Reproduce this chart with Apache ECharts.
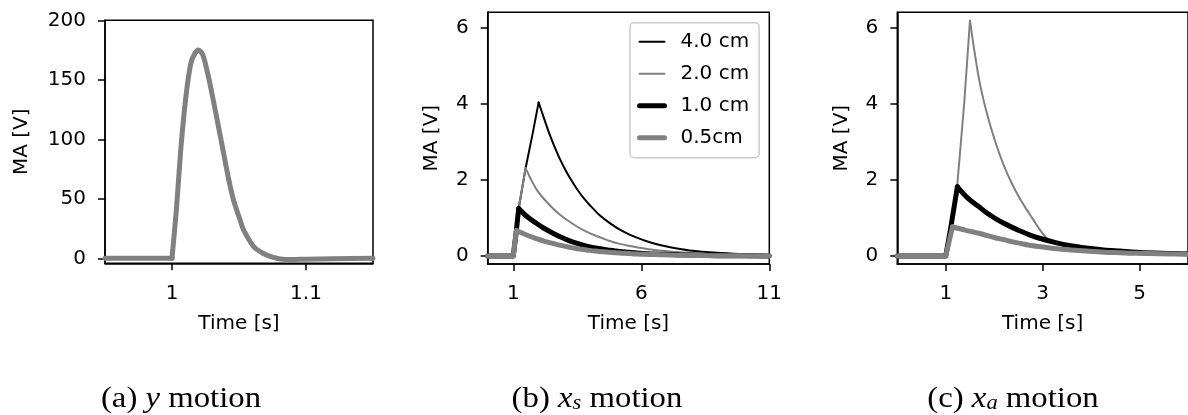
<!DOCTYPE html>
<html>
<head>
<meta charset="utf-8">
<script src="https://cdn.jsdelivr.net/npm/echarts@6/dist/echarts.min.js"></script>
<style>
html,body{margin:0;padding:0;background:#fff;}
#c{width:1188px;height:415px;}
</style>
</head>
<body>
<div id="c"></div>
<script>
// ---------- data ----------
// (a) y motion
const aT = [0.95, 1.0, 1.0032, 1.0069, 1.0106, 1.0141, 1.017, 1.0198, 1.023, 1.0273, 1.032, 1.0372, 1.042, 1.0459, 1.0509, 1.0533, 1.0608, 1.0682, 1.075, 1.0806, 1.09, 1.1, 1.12, 1.15];
const aV = [0, 0, 40, 96, 138, 164, 172, 175, 171, 152, 126, 96, 68, 49, 32, 24, 10, 4, 1, -0.5, -1, -0.8, -0.4, 0];

// (b) x_s motion
const bT40 = [0, 1.0, 1.12, 1.21, 1.35, 1.48, 1.75, 1.99, 2.2, 2.4, 2.6, 2.8, 3.0, 3.25, 3.5, 3.75, 4.0, 4.3, 4.6, 5.0, 5.4, 5.8, 6.3, 6.85, 7.4, 8.0, 8.8, 9.6, 10.4, 11];
const bV40 = [0, 0, 0.67, 1.25, 1.8, 2.31, 3.2, 4.04, 3.62, 3.23, 2.89, 2.58, 2.31, 2.01, 1.75, 1.52, 1.33, 1.12, 0.95, 0.76, 0.61, 0.49, 0.37, 0.27, 0.2, 0.14, 0.09, 0.06, 0.04, 0.03];
const bT20 = [0, 1.0, 1.12, 1.21, 1.35, 1.48, 1.65, 1.9, 2.2, 2.55, 2.85, 3.2, 3.5, 3.86, 4.2, 4.51, 4.8, 5.16, 5.5, 5.82, 6.5, 7.5, 8.5, 9.5, 11];
const bV20 = [0, 0, 0.67, 1.25, 1.8, 2.31, 2.07, 1.76, 1.5, 1.25, 1.07, 0.9, 0.77, 0.64, 0.54, 0.46, 0.39, 0.32, 0.27, 0.23, 0.16, 0.1, 0.06, 0.04, 0.02];
const bT10 = [0, 1.0, 1.12, 1.21, 1.5, 1.9, 2.2, 2.55, 2.85, 3.2, 3.5, 3.86, 4.2, 4.51, 4.8, 5.16, 5.5, 5.82, 6.5, 7.5, 9, 11];
const bV10 = [0, 0, 0.67, 1.25, 1.06, 0.86, 0.73, 0.6, 0.5, 0.4, 0.33, 0.26, 0.21, 0.18, 0.15, 0.12, 0.1, 0.08, 0.05, 0.03, 0.01, 0];
const bT05 = [0, 1.0, 1.12, 1.5, 1.9, 2.2, 2.55, 2.85, 3.2, 3.5, 3.86, 4.2, 4.51, 5.16, 5.82, 6.5, 7.5, 9, 11];
const bV05 = [0, 0, 0.67, 0.56, 0.46, 0.39, 0.33, 0.28, 0.23, 0.19, 0.16, 0.13, 0.11, 0.08, 0.05, 0.04, 0.02, 0.01, 0];

// (c) x_a motion
const cT20 = [0, 1.0, 1.1, 1.24, 1.38, 1.5, 1.68, 1.85, 2.05, 2.2, 2.36, 2.5, 2.66, 2.8, 2.96, 3.1, 3.25, 3.58, 4.26, 5.0, 6.2];
const cV20 = [0, 0, 0.7, 1.9, 4.0, 6.19, 4.7, 3.75, 2.9, 2.38, 1.92, 1.58, 1.24, 0.97, 0.66, 0.45, 0.35, 0.25, 0.15, 0.09, 0.05];
const cT10 = [0, 1.0, 1.1, 1.24, 1.45, 1.68, 1.85, 2.02, 2.2, 2.36, 2.55, 2.7, 2.9, 3.25, 3.58, 3.9, 4.26, 4.6, 4.93, 5.3, 5.9, 6.2];
const cV10 = [0, 0, 0.72, 1.82, 1.53, 1.3, 1.13, 0.99, 0.86, 0.76, 0.65, 0.57, 0.48, 0.36, 0.27, 0.21, 0.16, 0.13, 0.1, 0.08, 0.06, 0.05];
const cT05 = [0, 1.0, 1.14, 1.4, 1.68, 1.85, 2.02, 2.2, 2.36, 2.55, 2.7, 3.04, 3.3, 3.58, 3.9, 4.26, 4.6, 4.93, 5.4, 5.9, 6.2];
const cV05 = [0, 0, 0.77, 0.68, 0.6, 0.54, 0.48, 0.43, 0.38, 0.33, 0.29, 0.23, 0.19, 0.16, 0.13, 0.1, 0.085, 0.07, 0.06, 0.05, 0.04];

const seriesNames = ['4.0 cm', '2.0 cm', '1.0 cm', '0.5cm'];
const aTicksX = [1, 1.1];
const aTicksY = [0, 50, 100, 150, 200];
const bTicksX = [1, 6, 11];
const cTicksX = [1, 3, 5];
const bcTicksY = [0, 2, 4, 6];
const captions = ['(a)', '(b)', '(c)'];

// ---------- helpers ----------
const zip = (t, v) => t.map((x, i) => [x, v[i]]);
const FONT = 'DejaVu Sans';
const FS = 20;
const GRAY = '#808080';
const THIN = 2, THICK = 5;

function xAxis(gi, min, max, ticks) {
  return {
    type: 'value', gridIndex: gi, min: min, max: max,
    name: 'Time [s]', nameLocation: 'middle', nameGap: 50,
    nameTextStyle: {fontFamily: FONT, fontSize: FS, color: '#000'},
    axisLine: {show: true, onZero: false, lineStyle: {color: '#000', width: 1.5}},
    axisTick: {show: true, inside: false, length: 7, customValues: ticks, lineStyle: {color: '#000', width: 1.5}},
    axisLabel: {show: true, margin: 20, customValues: ticks, fontFamily: FONT, fontSize: FS, color: '#000',
      formatter: v => String(v)},
    splitLine: {show: false}
  };
}
function yAxis(gi, min, max, ticks, gap) {
  return {
    type: 'value', gridIndex: gi, min: min, max: max,
    name: 'MA [V]', nameLocation: 'middle', nameGap: gap,
    nameTextStyle: {fontFamily: FONT, fontSize: FS, color: '#000'},
    axisLine: {show: true, onZero: false, lineStyle: {color: '#000', width: 1.5}},
    axisTick: {show: true, inside: false, length: 7, customValues: ticks, lineStyle: {color: '#000', width: 1.5}},
    axisLabel: {show: true, margin: 19, customValues: ticks, fontFamily: FONT, fontSize: FS, color: '#000',
      formatter: v => String(v)},
    splitLine: {show: false}
  };
}
function line(name, xi, data, color, width, smooth) {
  return {
    type: 'line', name: name, xAxisIndex: xi, yAxisIndex: xi, data: data,
    showSymbol: false, symbol: 'none', smooth: smooth || false, animation: false,
    lineStyle: {color: color, width: width, cap: 'round', join: 'round'}, itemStyle: {color: color},
    emphasis: {disabled: true}, clip: true
  };
}
// a curve is drawn as a straight-edged part up to index k, then a smooth part from k on
function curve(name, xi, t, v, k, color, width) {
  const pts = zip(t, v);
  return [
    line(name, xi, pts.slice(0, k + 1), color, width, false),
    line(name, xi, pts.slice(k), color, width, 0.3)
  ];
}
const peak = v => v.indexOf(Math.max.apply(null, v));

const gridBase = {show: true, borderColor: '#000', borderWidth: 1.5, backgroundColor: 'transparent', containLabel: false};

const capRich = {
  n: {fontFamily: 'Liberation Serif', fontSize: 29, fill: '#000', color: '#000', verticalAlign: 'bottom', lineHeight: 32},
  i: {fontFamily: 'Liberation Serif', fontStyle: 'italic', fontSize: 29, fill: '#000', color: '#000', verticalAlign: 'bottom', lineHeight: 32},
  s: {fontFamily: 'Liberation Serif', fontStyle: 'italic', fontSize: 20, fill: '#000', color: '#000', verticalAlign: 'bottom', lineHeight: 15}
};

const option = {
  backgroundColor: '#fff',
  animation: false,
  grid: [
    Object.assign({left: 105, right: 815, top: 20.3, bottom: 151.7}, gridBase),
    Object.assign({left: 487.7, right: 418.7, top: 12.3, bottom: 151}, gridBase),
    Object.assign({left: 897.3, right: -5, top: 12.3, bottom: 151}, gridBase)
  ],
  xAxis: [
    xAxis(0, 0.95, 1.15, aTicksX),
    xAxis(1, 0, 11, bTicksX),
    xAxis(2, 0, 6, cTicksX)
  ],
  yAxis: [
    yAxis(0, -4.2, 200, aTicksY, 73),
    yAxis(1, -0.21, 6.41, bcTicksY, 46),
    yAxis(2, -0.21, 6.41, bcTicksY, 46)
  ],
  legend: {
    show: true, orient: 'vertical', left: 630, top: 22.7,
    data: [
      {name: seriesNames[0], lineStyle: {width: THIN, color: '#000'}},
      {name: seriesNames[1], lineStyle: {width: THIN, color: GRAY}},
      {name: seriesNames[2], lineStyle: {width: THICK, color: '#000'}},
      {name: seriesNames[3], lineStyle: {width: THICK, color: GRAY}}
    ],
    itemWidth: 25, itemHeight: 14, itemGap: 12,
    itemStyle: {opacity: 0},
    backgroundColor: 'rgba(255,255,255,0.8)', borderColor: '#cccccc', borderWidth: 1.5, borderRadius: 4,
    padding: [9, 10, 10, 7],
    textStyle: {fontFamily: FONT, fontSize: FS, color: '#000', padding: [0, 0, 0, 11]},
    selectedMode: false
  },
  series: [].concat(
    curve('a', 0, aT, aV, 1, GRAY, THICK),
    curve(seriesNames[0], 1, bT40, bV40, peak(bV40), '#000', THIN),
    curve(seriesNames[1], 1, bT20, bV20, peak(bV20), GRAY, THIN),
    curve(seriesNames[2], 1, bT10, bV10, peak(bV10), '#000', THICK),
    curve(seriesNames[3], 1, bT05, bV05, peak(bV05), GRAY, THICK),
    curve('c20', 2, cT20, cV20, peak(cV20), GRAY, THIN),
    curve('c10', 2, cT10, cV10, peak(cV10), '#000', THICK),
    curve('c05', 2, cT05, cV05, peak(cV05), GRAY, THICK)
  ),
  graphic: [
    {type: 'text', x: 181, y: 398, scaleX: 1.13, style: {text: '{n|' + captions[0] + ' }{i|y}{n| motion}', align: 'center', verticalAlign: 'middle', rich: capRich}},
    {type: 'text', x: 597, y: 398, scaleX: 1.13, style: {text: '{n|' + captions[1] + ' }{i|x}{s|s}{n| motion}', align: 'center', verticalAlign: 'middle', rich: capRich}},
    {type: 'text', x: 1013, y: 398, scaleX: 1.13, style: {text: '{n|' + captions[2] + ' }{i|x}{s|a}{n| motion}', align: 'center', verticalAlign: 'middle', rich: capRich}}
  ]
};

const chart = echarts.init(document.getElementById('c'), null, {renderer: 'canvas', width: 1188, height: 415});
chart.setOption(option);
</script>
</body>
</html>
